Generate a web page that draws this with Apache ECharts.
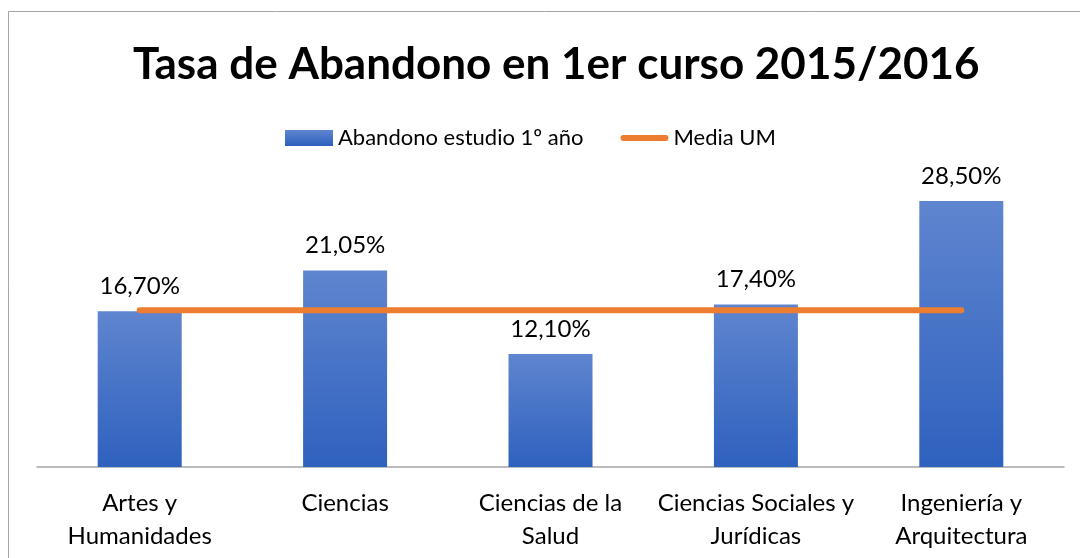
<!DOCTYPE html>
<html>
<head>
<meta charset="utf-8">
<script src="https://cdn.jsdelivr.net/npm/echarts@6/dist/echarts.min.js"></script>
<style>
  html, body { margin: 0; padding: 0; background: #fff; }
  #chart { width: 1080px; height: 558px; }
</style>
</head>
<body>
<div id="chart"></div>
<script>
var categories = ['Artes y\nHumanidades', 'Ciencias', 'Ciencias de la\nSalud', 'Ciencias Sociales y\nJurídicas', 'Ingeniería y\nArquitectura'];
var abandono = [16.70, 21.05, 12.10, 17.40, 28.50];
var mediaUM = [16.8, 16.8, 16.8, 16.8, 16.8];

var font = 'Lato';
var chart = echarts.init(document.getElementById('chart'));

chart.setOption({
    animation: false,
    textStyle: { fontFamily: font },
    title: {
        text: 'Tasa de Abandono en 1er curso 2015/2016',
        left: 128,
        top: 38,
        textStyle: {
            fontFamily: font,
            fontSize: 44,
            fontWeight: 'bold',
            color: '#000'
        }
    },
    graphic: [{
        type: 'rect',
        shape: { x: 8.5, y: 11.5, width: 1100, height: 600 },
        style: { fill: 'none', stroke: '#a6a6a6', lineWidth: 1 },
        silent: true
    }],
    legend: {
        top: 122,
        left: 280,
        itemGap: 37,
        itemWidth: 48,
        itemHeight: 16,
        textStyle: { fontFamily: font, fontSize: 22, color: '#000' },
        data: [
            { name: 'Abandono estudio 1º año', icon: 'rect' },
            {
                name: 'Media UM',
                icon: 'path://M3,0 L45,0 A3,3 0 0 1 45,6 L3,6 A3,3 0 0 1 3,0 Z',
                itemStyle: { color: '#ed7d31' }
            }
        ]
    },
    grid: {
        left: 37,
        right: 16,
        top: 187,
        bottom: 91
    },
    xAxis: {
        type: 'category',
        data: categories,
        axisLine: { lineStyle: { color: '#a6a6a6', width: 1.5 } },
        axisTick: { show: false },
        axisLabel: {
            color: '#000',
            fontFamily: font,
            fontSize: 24,
            lineHeight: 33,
            margin: 20,
            interval: 0
        }
    },
    yAxis: {
        type: 'value',
        min: 0,
        max: 30,
        show: false,
        splitLine: { show: false }
    },
    series: [
        {
            name: 'Abandono estudio 1º año',
            type: 'bar',
            data: abandono,
            barWidth: 84,
            itemStyle: {
                color: new echarts.graphic.LinearGradient(0, 0, 0, 1, [
                    { offset: 0, color: '#5f85cf' },
                    { offset: 1, color: '#2e61be' }
                ])
            },
            label: {
                show: true,
                position: 'top',
                distance: 13,
                fontFamily: font,
                fontSize: 24,
                color: '#000',
                formatter: function (p) {
                    return p.value.toFixed(2).replace('.', ',') + '%';
                }
            }
        },
        {
            name: 'Media UM',
            type: 'line',
            data: mediaUM,
            symbol: 'none',
            lineStyle: { color: '#ed7d31', width: 6, cap: 'round' },
            itemStyle: { color: '#ed7d31' }
        }
    ]
});
</script>
</body>
</html>
